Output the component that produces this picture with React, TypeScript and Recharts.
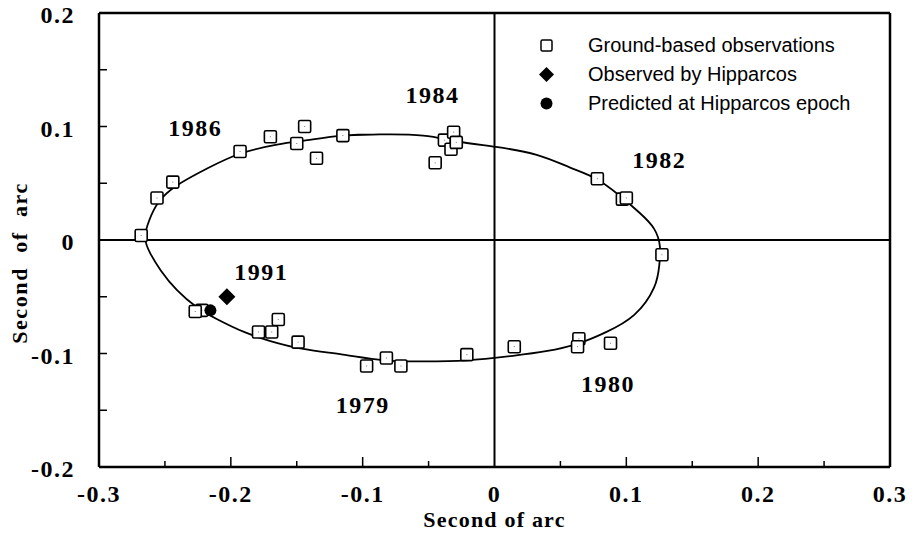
import { ScatterChart, Scatter, XAxis, YAxis, ReferenceLine, ReferenceDot, Legend, Label } from 'recharts';

// axis ticks (every 0.05, labels on the 0.1 steps)
const xTicks = [-0.3, -0.25, -0.2, -0.15, -0.1, -0.05, 0, 0.05, 0.1, 0.15, 0.2, 0.25, 0.3];
const yTicks = [-0.2, -0.15, -0.1, -0.05, 0, 0.05, 0.1, 0.15, 0.2];

// ground-based observations
const groundX = [
  -0.268, -0.256, -0.244, -0.193, -0.170, -0.150, -0.144, -0.135, -0.115,
  -0.045, -0.038, -0.033, -0.031, -0.029, 0.078, 0.097, 0.100, 0.127,
  0.064, 0.063, 0.088, 0.015, -0.021, -0.071, -0.082, -0.097, -0.149,
  -0.164, -0.169, -0.179, -0.222, -0.227,
];
const groundY = [
  0.004, 0.037, 0.051, 0.078, 0.091, 0.085, 0.100, 0.072, 0.092,
  0.068, 0.088, 0.080, 0.095, 0.086, 0.054, 0.036, 0.037, -0.013,
  -0.087, -0.094, -0.091, -0.094, -0.101, -0.111, -0.104, -0.111, -0.090,
  -0.070, -0.081, -0.081, -0.062, -0.063,
];

const hipparcosObserved = [{ x: -0.203, y: -0.05 }];
const hipparcosPredicted = [{ x: -0.2155, y: -0.062 }];

// fitted apparent orbit (starts and ends on the flat top so the curve closes smoothly)
const orbitX = [
  -0.115, -0.087, -0.054, -0.029, 0.001, 0.032, 0.057, 0.077, 0.095, 0.110,
  0.121, 0.1255, 0.125, 0.121, 0.106, 0.085, 0.064, 0.039, 0.014, -0.021,
  -0.054, -0.084, -0.115, -0.145, -0.170, -0.190, -0.210, -0.226, -0.241, -0.253,
  -0.261, -0.265, -0.262, -0.255, -0.241, -0.218, -0.193, -0.165, -0.142, -0.115,
  -0.087,
];
const orbitY = [
  0.092, 0.093, 0.092, 0.087, 0.082, 0.075, 0.064, 0.054, 0.039, 0.024,
  0.010, -0.006, -0.022, -0.042, -0.066, -0.081, -0.091, -0.098, -0.102, -0.106,
  -0.107, -0.106, -0.101, -0.096, -0.089, -0.081, -0.070, -0.059, -0.044, -0.027,
  -0.012, 0.002, 0.017, 0.033, 0.048, 0.063, 0.076, 0.084, 0.088, 0.092,
  0.093,
];

const yearNames = ['1984', '1986', '1982', '1991', '1979', '1980'];
const yearX = [-0.047, -0.227, 0.125, -0.177, -0.100, 0.086];
const yearY = [0.128, 0.099, 0.071, -0.028, -0.145, -0.126];

const legendItems = ['Ground-based observations', 'Observed by Hipparcos', 'Predicted at Hipparcos epoch'];

const ground = groundX.map((x, i) => ({ x, y: groundY[i] }));
const orbit = orbitX.map((x, i) => ({ x, y: orbitY[i] }));

const serif = "'Liberation Serif', 'Times New Roman', serif";
const sans = "'Liberation Sans', Arial, sans-serif";

const isMajor = (v: number) => Math.abs(v * 10 - Math.round(v * 10)) < 1e-6;
const fmt = (v: number) => (Math.abs(v) < 1e-9 ? '0' : v.toFixed(1));

const numStyle = { fontFamily: serif, fontWeight: 'bold' as const, fontSize: 24, letterSpacing: 1.5, fill: '#000' };

function XTick({ x, y, payload }: any) {
  const v = payload.value;
  const major = isMajor(v);
  const showLine = Math.abs(v) > 1e-9 && Math.abs(v) < 0.29;
  return (
    <g>
      {showLine && <line x1={x} x2={x} y1={y} y2={y - (major ? 10 : 6)} stroke="#000" strokeWidth={1.5} />}
      {major && (
        <text x={x} y={y + 27} textAnchor="middle" dominantBaseline="central" style={numStyle}>
          {fmt(v)}
        </text>
      )}
    </g>
  );
}

function YTick({ x, y, payload }: any) {
  const v = payload.value;
  const showLine = Math.abs(v) > 1e-9 && Math.abs(v) < 0.19;
  return (
    <g>
      {showLine && <line x1={x} x2={x + 8} y1={y} y2={y} stroke="#000" strokeWidth={1.5} />}
      {isMajor(v) && (
        <text x={x - 24} y={y + 2} textAnchor="end" dominantBaseline="central" style={numStyle}>
          {fmt(v)}
        </text>
      )}
    </g>
  );
}

const titleStyle = { fontFamily: serif, fontWeight: 'bold' as const, fontSize: 22, letterSpacing: 1.2, fill: '#000' };

const XTitle = ({ viewBox }: any) => (
  <text x={viewBox.x + viewBox.width / 2} y={viewBox.y + 52} textAnchor="middle" dominantBaseline="central" style={titleStyle}>
    Second of arc
  </text>
);
const YTitle = ({ viewBox }: any) => {
  const cx = viewBox.x + 19;
  const cy = viewBox.y + 250;
  return (
    <text x={cx} y={cy} transform={`rotate(-90, ${cx}, ${cy})`} textAnchor="middle" dominantBaseline="central"
      style={{ ...titleStyle, letterSpacing: 1.6, whiteSpace: 'pre' }}>
      {'Second  of  arc'}
    </text>
  );
};

const Square = ({ cx, cy }: any) => (
  <g>
    <rect x={cx - 6} y={cy - 6} width={12} height={12} rx={1.5} fill="#fff" stroke="#000" strokeWidth={1.6} />
    <rect x={cx - 0.5} y={cy - 0.5} width={1} height={1} fill="#777" />
  </g>
);
const Diamond = ({ cx, cy }: any) => (
  <path d={`M${cx},${cy - 8.5} L${cx + 8.5},${cy} L${cx},${cy + 8.5} L${cx - 8.5},${cy} Z`} fill="#000" />
);
const Dot = ({ cx, cy }: any) => <circle cx={cx} cy={cy} r={6} fill="#000" />;
const Nothing = () => <g />;

function LegendBox() {
  const markers = [
    <rect x={3} y={3} width={11} height={11} rx={1.5} fill="#fff" stroke="#000" strokeWidth={1.5} />,
    <path d="M8.5,1 L16,8.5 L8.5,16 L1,8.5 Z" fill="#000" />,
    <circle cx={8.5} cy={8.5} r={6} fill="#000" />,
  ];
  return (
    <div style={{ fontFamily: sans, fontSize: 20, color: '#000' }}>
      {legendItems.map((t, i) => (
        <div key={t} style={{ display: 'flex', alignItems: 'center', height: 29 }}>
          <svg width={17} height={17} style={{ marginRight: 33 }}>{markers[i]}</svg>
          <span>{t}</span>
        </div>
      ))}
    </div>
  );
}

export default function App() {
  return (
    <div style={{ position: 'absolute', left: 0, top: 0, width: 912, height: 533, background: '#fff' }}>
      <ScatterChart width={912} height={533} margin={{ top: 13, right: 22, bottom: 0, left: 0 }}
        style={{ overflow: 'visible' }}>
        <XAxis type="number" dataKey="x" domain={[-0.3, 0.3]} ticks={xTicks} interval={0}
          allowDataOverflow tickSize={0} tickMargin={0} tickLine={false} tick={<XTick />}
          axisLine={{ stroke: '#000', strokeWidth: 2.5 }} height={66}>
          <Label content={<XTitle />} />
        </XAxis>
        <YAxis type="number" dataKey="y" domain={[-0.2, 0.2]} ticks={yTicks} interval={0}
          allowDataOverflow tickSize={0} tickMargin={0} tickLine={false} tick={<YTick />}
          axisLine={{ stroke: '#000', strokeWidth: 2.5 }} width={99}>
          <Label content={<YTitle />} />
        </YAxis>
        <ReferenceLine y={0.2} stroke="#000" strokeWidth={2.5} />
        <ReferenceLine x={0.3} stroke="#000" strokeWidth={2.5} />
        <ReferenceLine y={0} stroke="#000" strokeWidth={2} />
        <ReferenceLine x={0} stroke="#000" strokeWidth={2} />
        {yearNames.map((name, i) => (
          <ReferenceDot key={name} x={yearX[i]} y={yearY[i]} r={0} fill="none" stroke="none"
            label={{ value: name, position: 'center', style: numStyle }} />
        ))}
        <Scatter data={orbit} shape={<Nothing />} line={{ stroke: '#000', strokeWidth: 1.8 }}
          lineJointType="natural" legendType="none" isAnimationActive={false} />
        <Scatter data={ground} shape={<Square />} isAnimationActive={false} />
        <Scatter data={hipparcosObserved} shape={<Diamond />} isAnimationActive={false} />
        <Scatter data={hipparcosPredicted} shape={<Dot />} isAnimationActive={false} />
        <Legend layout="horizontal" align="center" verticalAlign="middle" content={<LegendBox />}
          wrapperStyle={{ left: 538, top: 31, width: 340 }} />
      </ScatterChart>
    </div>
  );
}
